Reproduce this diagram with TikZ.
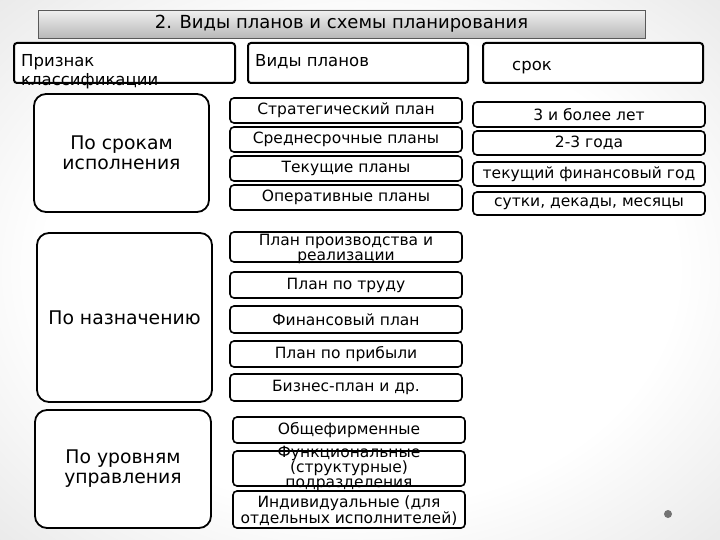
\documentclass[tikz,border=0pt]{standalone}
\usepackage{fontspec}
\setmainfont{DejaVu Sans}
\pgfdeclareradialshading{bgshade}{\pgfpoint{0bp}{0bp}}{color(0bp)=(white); color(22bp)=(white); color(50bp)=(black!17); color(72bp)=(black!21)}
\tikzset{
  hbox/.style={draw=black, line width=2pt, rounded corners=3pt, fill=white, inner sep=0pt},
  lbox/.style={draw=black, line width=1.8pt, rounded corners=12pt, fill=white, inner sep=0pt, align=center, font=\fontsize{18.8}{20}\selectfont},
  mbox/.style={draw=black, line width=1.6pt, rounded corners=4pt, fill=white, inner sep=0pt, minimum width=232pt},
  mtxt/.style={inner sep=0pt, align=center, font=\fontsize{15.5}{15}\selectfont},
  htxt/.style={inner sep=0pt, anchor=base west, font=\fontsize{16.5}{19}\selectfont},
}
\begin{document}
\begin{tikzpicture}[x=1pt,y=-1pt]
\useasboundingbox (0,0) rectangle (720,540);
\shade[shading=bgshade] (0,0) rectangle (720,540);
% title
\node[draw=black!65, line width=0.8pt, top color=black!6, bottom color=black!28, minimum width=607pt, minimum height=28pt, inner sep=0pt, font=\fontsize{18}{20}\selectfont] (title) at (341.5,24) {2. Виды планов и схемы планирования};
% headers
\node[hbox, minimum width=221pt, minimum height=40pt] (h1) at (124.5,63) {};
\node[hbox, minimum width=220pt, minimum height=40pt] (h2) at (358,63) {};
\node[hbox, minimum width=220pt, minimum height=40pt] (h3) at (593,63) {};
\node[htxt] (h1a) at (21,67) {Признак};
\node[htxt] (h1b) at (21,86) {классификации};
\node[htxt] (h2t) at (255,67) {Виды планов};
\node[htxt] (h3t) at (512,71) {срок};
% left boxes
\node[lbox, minimum width=175pt, minimum height=118pt] (l1) at (121.5,153) {По срокам\\исполнения};
\node[lbox, minimum width=175pt, minimum height=169pt] (l2) at (124.5,317.5) {По назначению};
\node[lbox, minimum width=176pt, minimum height=118pt] (l3) at (123,469) {По уровням\\управления};
% group 1
\node[mbox, minimum height=25pt] (a1) at (346,110.5) {};
\node[mbox, minimum height=25pt] (a2) at (346,139.5) {};
\node[mbox, minimum height=25pt] (a3) at (346,168.5) {};
\node[mbox, minimum height=25pt] (a4) at (346,197.5) {};
\node[mtxt] (a1t) at (a1) {Стратегический план};
\node[mtxt] (a2t) at (a2) {Среднесрочные планы};
\node[mtxt] (a3t) at (a3) {Текущие планы};
\node[mtxt] (a4t) at (a4) {Оперативные планы};
% right group
\node[mbox, minimum height=25pt] (b1) at (589,114.5) {};
\node[mbox, minimum height=24pt] (b2) at (589,143) {};
\node[mbox, minimum height=24pt] (b3) at (589,174) {};
\node[mbox, minimum height=23pt] (b4) at (589,203.5) {};
\node[mtxt] (b1t) at (b1) {3 и более лет};
\node[mtxt] (b2t) at (b2) {2-3 года};
\node[mtxt] (b3t) at (b3) {текущий финансовый год};
\node[mtxt] (b4t) at (b4) {сутки, декады, месяцы};
% group 2
\node[mbox, minimum height=30pt] (c1) at (346,247) {};
\node[mbox, minimum height=26pt] (c2) at (346,285) {};
\node[mbox, minimum height=27pt] (c3) at (346,319.5) {};
\node[mbox, minimum height=26pt] (c4) at (346,354) {};
\node[mbox, minimum height=27pt] (c5) at (346,387.5) {};
\node[mtxt] (c1t) at (346,249) {План производства и\\реализации};
\node[mtxt] (c2t) at (c2) {План по труду};
\node[mtxt] (c3t) at (c3) {Финансовый план};
\node[mtxt] (c4t) at (c4) {План по прибыли};
\node[mtxt] (c5t) at (c5) {Бизнес-план и др.};
% group 3
\node[mbox, minimum height=26pt] (d1) at (349,430) {};
\node[mbox, minimum height=35pt] (d2) at (349,468.5) {};
\node[mbox, minimum height=37pt] (d3) at (349,509.5) {};
\node[mtxt] (d1t) at (d1) {Общефирменные};
\node[mtxt] (d2t) at (349,468) {Функциональные\\(структурные)\\подразделения};
\node[mtxt] (d3t) at (349,511) {Индивидуальные (для\\отдельных исполнителей)};
% dot
\fill[black!55] (668,514) circle (4pt);
\end{tikzpicture}
\end{document}
